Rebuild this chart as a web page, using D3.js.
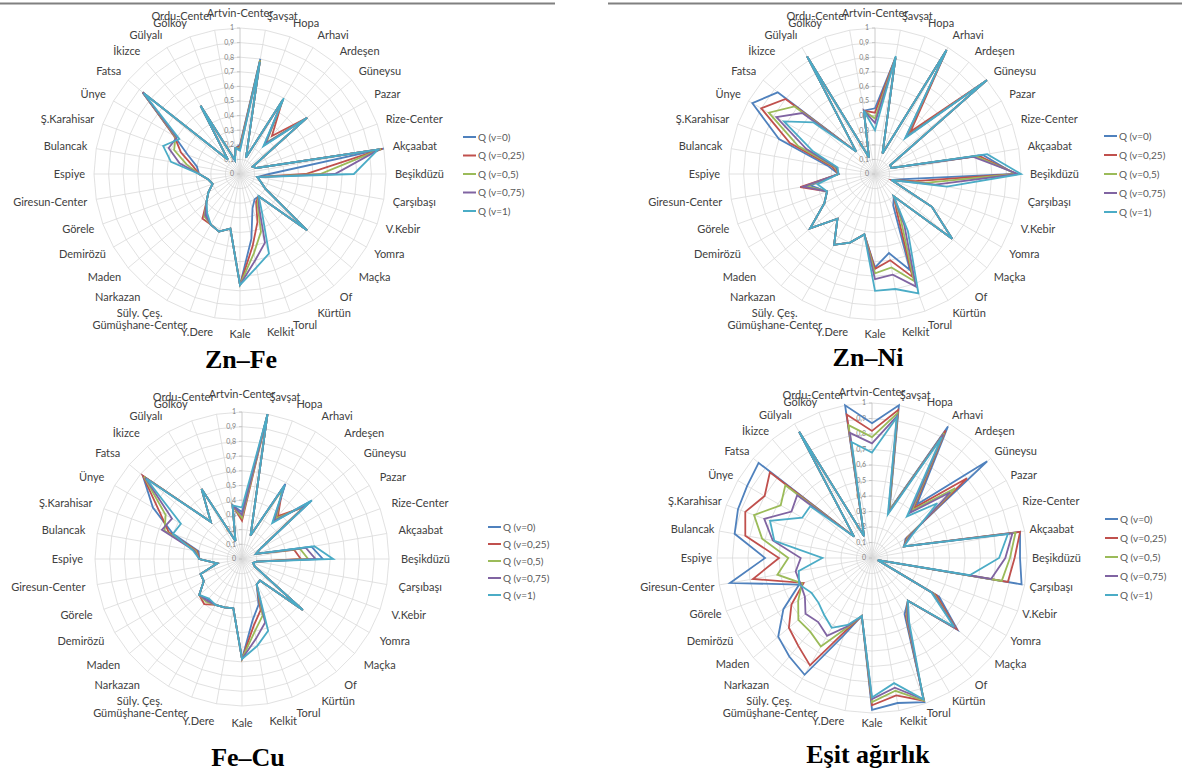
<!DOCTYPE html>
<html><head><meta charset="utf-8">
<script src="https://cdn.jsdelivr.net/npm/d3@7"></script>
<style>body{margin:0;background:#fff}svg{display:block}</style>
</head><body><svg id="c" width="1182" height="776"></svg>
<script>
const categories = ["Artvin-Center","Şavşat","Hopa","Arhavi","Ardeşen","Güneysu","Pazar","Rize-Center","Akçaabat","Beşikdüzü","Çarşıbaşı","V.Kebir","Yomra","Maçka","Of","Kürtün","Torul","Kelkit","Kale","Y.Dere","Gümüşhane-Center","Süly. Çeş.","Narkazan","Maden","Demirözü","Görele","Giresun-Center","Espiye","Bulancak","Ş.Karahisar","Ünye","Fatsa","İkizce","Gülyalı","Gölköy","Ordu-Center"];
const seriesNames = ["Q (v=0)","Q (v=0,25)","Q (v=0,5)","Q (v=0,75)","Q (v=1)"];
const seriesColors = ["#4F81BD","#C0504D","#9BBB59","#8064A2","#4BACC6"];
const tickValues = [0,0.1,0.2,0.3,0.4,0.5,0.6,0.7,0.8,0.9,1];
const tickLabels = ["0","0,1","0,2","0,3","0,4","0,5","0,6","0,7","0,8","0,9","1"];

// Zn–Fe
const znFe_v0   = [0.20,0.80,0.12,0.58,0.26,0.60,0.10,0.12,1.00,0.20,0.12,0.15,0.20,0.60,0.20,0.20,0.25,0.45,0.76,0.38,0.42,0.40,0.36,0.30,0.25,0.20,0.22,0.28,0.30,0.38,0.52,0.87,0.13,0.54,0.10,0.18];
const znFe_v025 = [0.19,0.79,0.12,0.58,0.34,0.60,0.10,0.12,0.99,0.45,0.12,0.15,0.20,0.60,0.20,0.22,0.35,0.50,0.76,0.38,0.42,0.40,0.40,0.30,0.25,0.20,0.22,0.28,0.33,0.43,0.52,0.87,0.13,0.54,0.10,0.18];
const znFe_v05  = [0.18,0.79,0.12,0.59,0.28,0.60,0.10,0.12,0.98,0.55,0.12,0.15,0.20,0.60,0.20,0.24,0.42,0.55,0.76,0.38,0.42,0.40,0.38,0.30,0.25,0.20,0.22,0.28,0.37,0.48,0.51,0.87,0.13,0.54,0.10,0.18];
const znFe_v075 = [0.17,0.78,0.12,0.59,0.27,0.60,0.10,0.12,0.97,0.65,0.12,0.15,0.20,0.60,0.20,0.26,0.50,0.60,0.76,0.38,0.42,0.40,0.37,0.30,0.25,0.20,0.22,0.28,0.42,0.52,0.50,0.87,0.13,0.54,0.10,0.18];
const znFe_v1   = [0.16,0.78,0.12,0.60,0.25,0.60,0.10,0.12,0.96,0.78,0.12,0.15,0.20,0.60,0.20,0.30,0.58,0.65,0.76,0.38,0.42,0.40,0.35,0.30,0.25,0.20,0.22,0.28,0.48,0.56,0.48,0.86,0.13,0.54,0.10,0.18];

// Zn–Ni
const znNi_v0   = [0.45,0.81,0.15,0.98,0.35,1.00,0.12,0.12,0.75,0.96,0.20,0.12,0.45,0.69,0.20,0.25,0.70,0.55,0.64,0.42,0.50,0.56,0.40,0.58,0.40,0.35,0.45,0.25,0.33,0.70,0.97,0.87,0.20,0.93,0.12,0.44];
const znNi_v025 = [0.42,0.81,0.15,0.98,0.38,1.00,0.12,0.12,0.72,0.97,0.28,0.12,0.45,0.69,0.20,0.30,0.75,0.60,0.65,0.42,0.50,0.56,0.40,0.58,0.40,0.35,0.52,0.25,0.30,0.62,0.90,0.80,0.20,0.93,0.12,0.44];
const znNi_v05  = [0.38,0.81,0.15,0.98,0.34,1.00,0.12,0.12,0.70,0.97,0.35,0.12,0.45,0.69,0.20,0.35,0.78,0.65,0.68,0.42,0.50,0.56,0.40,0.58,0.40,0.35,0.48,0.25,0.28,0.56,0.84,0.72,0.20,0.93,0.12,0.44];
const znNi_v075 = [0.35,0.81,0.15,0.98,0.33,1.00,0.12,0.12,0.68,0.98,0.42,0.12,0.45,0.69,0.20,0.40,0.82,0.70,0.72,0.42,0.50,0.56,0.40,0.58,0.40,0.35,0.50,0.25,0.27,0.50,0.78,0.65,0.20,0.93,0.12,0.44];
const znNi_v1   = [0.30,0.82,0.15,0.98,0.32,1.00,0.12,0.12,0.78,1.00,0.50,0.12,0.45,0.69,0.20,0.45,0.87,0.80,0.80,0.42,0.50,0.56,0.40,0.58,0.40,0.35,0.40,0.25,0.26,0.45,0.72,0.55,0.20,0.93,0.12,0.44];

// Fe–Cu
const feCu_v0   = [0.32,1.00,0.17,0.59,0.33,0.62,0.15,0.10,0.48,0.55,0.10,0.08,0.10,0.54,0.19,0.20,0.33,0.42,0.68,0.34,0.35,0.36,0.36,0.38,0.30,0.30,0.17,0.29,0.30,0.50,0.70,0.88,0.33,0.55,0.13,0.37];
const feCu_v025 = [0.26,1.00,0.17,0.55,0.38,0.55,0.15,0.10,0.36,0.40,0.10,0.08,0.10,0.54,0.19,0.20,0.37,0.46,0.68,0.34,0.35,0.36,0.40,0.38,0.30,0.30,0.17,0.29,0.31,0.53,0.65,0.88,0.33,0.55,0.13,0.37];
const feCu_v05  = [0.28,1.00,0.17,0.55,0.36,0.56,0.15,0.10,0.40,0.45,0.10,0.08,0.10,0.54,0.19,0.20,0.41,0.50,0.68,0.34,0.35,0.36,0.38,0.38,0.30,0.30,0.17,0.29,0.32,0.56,0.60,0.87,0.33,0.55,0.13,0.37];
const feCu_v075 = [0.30,1.00,0.17,0.58,0.34,0.58,0.15,0.10,0.44,0.50,0.10,0.08,0.10,0.54,0.19,0.20,0.46,0.55,0.68,0.34,0.35,0.36,0.37,0.38,0.30,0.30,0.17,0.29,0.33,0.58,0.55,0.86,0.33,0.55,0.13,0.37];
const feCu_v1   = [0.35,1.00,0.17,0.58,0.32,0.62,0.15,0.10,0.50,0.62,0.10,0.08,0.10,0.54,0.19,0.20,0.52,0.60,0.68,0.34,0.35,0.36,0.35,0.38,0.30,0.30,0.17,0.29,0.34,0.50,0.48,0.85,0.33,0.55,0.13,0.37];

// Eşit ağırlık
const esit_v0   = [0.87,1.00,0.33,0.98,0.45,0.97,0.25,0.22,0.97,0.955,0.98,0.04,0.50,0.72,0.36,0.42,0.99,0.95,0.98,0.38,0.53,0.87,0.83,0.79,0.66,0.50,0.93,0.69,0.90,0.92,0.93,0.955,0.18,0.94,0.15,1.00];
const esit_v025 = [0.82,0.97,0.32,0.95,0.42,0.80,0.26,0.22,0.97,0.92,0.89,0.04,0.48,0.71,0.36,0.44,0.98,0.90,0.95,0.38,0.50,0.80,0.74,0.70,0.60,0.47,0.78,0.60,0.83,0.87,0.80,0.86,0.18,0.94,0.15,0.94];
const esit_v05  = [0.78,0.95,0.32,0.93,0.40,0.70,0.27,0.22,0.94,0.89,0.85,0.04,0.46,0.70,0.36,0.45,0.98,0.87,0.93,0.38,0.48,0.66,0.62,0.62,0.55,0.48,0.62,0.54,0.72,0.81,0.68,0.73,0.18,0.94,0.15,0.87];
const esit_v075 = [0.74,0.93,0.31,0.92,0.38,0.66,0.28,0.22,0.92,0.86,0.78,0.04,0.45,0.70,0.36,0.46,0.97,0.85,0.91,0.38,0.47,0.58,0.54,0.56,0.50,0.49,0.50,0.46,0.65,0.74,0.60,0.63,0.18,0.94,0.15,0.82];
const esit_v1   = [0.68,0.92,0.30,0.90,0.35,0.55,0.30,0.22,0.89,0.82,0.64,0.04,0.44,0.69,0.36,0.48,0.97,0.82,0.90,0.38,0.46,0.52,0.48,0.45,0.45,0.50,0.48,0.32,0.64,0.70,0.52,0.52,0.18,0.94,0.15,0.76];

const panels = [
  {title:"Zn–Fe", series:[znFe_v0,znFe_v025,znFe_v05,znFe_v075,znFe_v1], cx:240, cy:174, R:146, pad:9, lx:463, ly:137, ldy:18.5, tx:241, ty:368},
  {title:"Zn–Ni", series:[znNi_v0,znNi_v025,znNi_v05,znNi_v075,znNi_v1], cx:875, cy:174, R:146, pad:9, lx:1104, ly:136, ldy:19, tx:868, ty:366},
  {title:"Fe–Cu", series:[feCu_v0,feCu_v025,feCu_v05,feCu_v075,feCu_v1], cx:242, cy:559, R:147, pad:12, lx:488, ly:527, ldy:17, tx:248, ty:766},
  {title:"Eşit ağırlık", series:[esit_v0,esit_v025,esit_v05,esit_v075,esit_v1], cx:872, cy:558, R:155, pad:5, lx:1105, ly:519, ldy:19, tx:868, ty:763}
];

const svg = d3.select("#c");
svg.append("line").attr("x1",0).attr("x2",555).attr("y1",3.5).attr("y2",3.5).attr("stroke","#808080").attr("stroke-width",2);
svg.append("line").attr("x1",608).attr("x2",1182).attr("y1",3.5).attr("y2",3.5).attr("stroke","#808080").attr("stroke-width",2);

panels.forEach(p => {
  const g = svg.append("g").attr("transform", `translate(${p.cx},${p.cy})`);
  const r = d3.scaleLinear().domain([0,1]).range([0,p.R]);
  const a = d3.scaleLinear().domain([0,categories.length]).range([0,2*Math.PI]);
  const ring = d3.lineRadial().angle((d,i)=>a(i)).radius(d=>r(d)).curve(d3.curveLinearClosed);

  g.selectAll("path.ring").data(tickValues.slice(1)).join("path")
    .attr("class","ring")
    .attr("d", t => ring(categories.map(()=>t)))
    .attr("fill","none").attr("stroke","#d9d9d9").attr("stroke-width",0.8);
  g.selectAll("line.spoke").data(categories).join("line")
    .attr("class","spoke")
    .attr("x1",0).attr("y1",0)
    .attr("x2",(d,i)=>r(1)*Math.sin(a(i)))
    .attr("y2",(d,i)=>-r(1)*Math.cos(a(i)))
    .attr("stroke",(d,i)=>i===0?"#bfbfbf":"#d9d9d9").attr("stroke-width",0.8);
  g.selectAll("line.tick").data(tickValues).join("line")
    .attr("class","tick")
    .attr("x1",-3).attr("x2",0)
    .attr("y1",d=>-r(d)).attr("y2",d=>-r(d))
    .attr("stroke","#bfbfbf").attr("stroke-width",0.8);
  g.selectAll("text.tick").data(tickValues).join("text")
    .attr("class","tick")
    .attr("x",-6).attr("y",d=>-r(d)).attr("dy","0.35em")
    .attr("text-anchor","end")
    .attr("font-family","Lato, 'Open Sans', sans-serif").attr("font-size",7)
    .attr("fill","#7f7f7f")
    .text((d,i)=>tickLabels[i]);

  g.selectAll("text.cat").data(categories).join("text")
    .attr("class","cat")
    .each(function(d,i){
      const th = a(i), s = Math.sin(th), c = Math.cos(th);
      const rr = r(1) + p.pad;
      d3.select(this)
        .attr("x", rr*s).attr("y", -rr*c)
        .attr("dy", (0.35 - 0.5*c).toFixed(3)+"em")
        .attr("text-anchor", s>0.05?"start":(s<-0.05?"end":"middle"));
    })
    .attr("font-family","Lato, 'Open Sans', sans-serif").attr("font-size",11)
    .attr("fill","#404040")
    .text(d=>d);

  const line = d3.lineRadial().angle((d,i)=>a(i)).radius(d=>r(d)).curve(d3.curveLinearClosed);
  g.selectAll("path.series").data(p.series).join("path")
    .attr("class","series")
    .attr("d", d=>line(d))
    .attr("fill","none")
    .attr("stroke",(d,i)=>seriesColors[i])
    .attr("stroke-width",1.8)
    .attr("stroke-linejoin","miter");

  const lg = svg.append("g");
  seriesNames.forEach((n,i)=>{
    const y = p.ly + i*p.ldy;
    lg.append("line").attr("x1",p.lx).attr("x2",p.lx+13).attr("y1",y).attr("y2",y)
      .attr("stroke",seriesColors[i]).attr("stroke-width",2);
    lg.append("text").attr("x",p.lx+15).attr("y",y).attr("dy","0.35em")
      .attr("font-family","Lato, 'Open Sans', sans-serif").attr("font-size",10)
      .attr("fill","#595959").text(n);
  });

  svg.append("text").attr("x",p.tx).attr("y",p.ty).attr("text-anchor","middle")
    .attr("font-family","'Liberation Serif','Times New Roman',serif").attr("font-weight","bold")
    .attr("font-size",26).attr("fill","#000").text(p.title);
});
</script>
</body></html>
